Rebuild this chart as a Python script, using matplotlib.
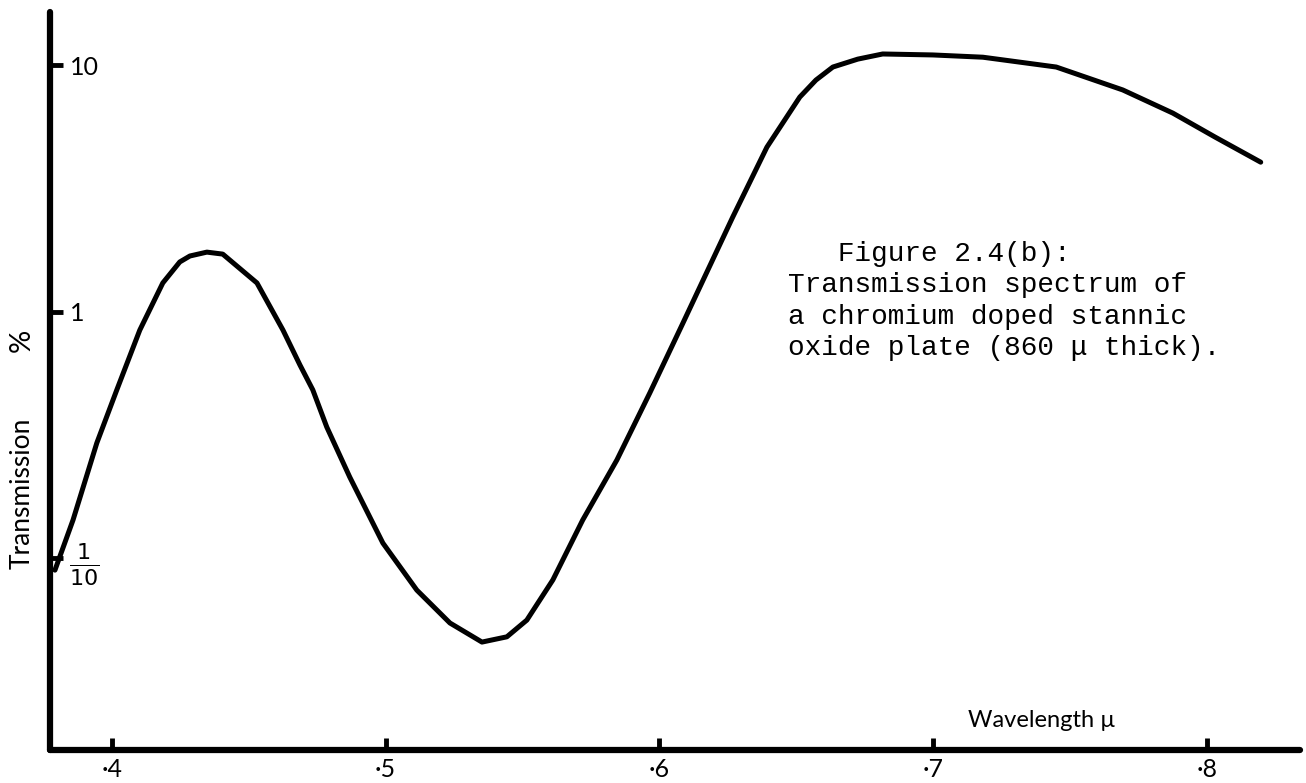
import matplotlib
matplotlib.use("Agg")
import matplotlib.pyplot as plt
from matplotlib.ticker import FixedLocator, NullLocator

# ---- data ----
wavelength = [0.3792, 0.3858, 0.3945, 0.4018, 0.4102, 0.4186, 0.4248, 0.4285, 0.4347,
              0.4405, 0.4530, 0.4625, 0.4687, 0.4734, 0.4785, 0.4869, 0.4990, 0.5114,
              0.5235, 0.5352, 0.5443, 0.5516, 0.5611, 0.5720, 0.5845, 0.5965, 0.6086,
              0.6268, 0.6393, 0.6513, 0.6572, 0.6634, 0.6725, 0.6816, 0.6999, 0.7182,
              0.7450, 0.7693, 0.7876, 0.8030, 0.8197]
transmission = [0.0893, 0.1426, 0.293, 0.481, 0.841, 1.306, 1.589, 1.68, 1.742,
                1.710, 1.306, 0.841, 0.607, 0.481, 0.340, 0.213, 0.115, 0.0741,
                0.0545, 0.0456, 0.0479, 0.0560, 0.0815, 0.1426, 0.250, 0.467, 0.897,
                2.415, 4.645, 7.413, 8.69, 9.817, 10.57, 11.09, 10.99, 10.76,
                9.817, 7.925, 6.383, 5.105, 4.036]
x_ticks = [0.4, 0.5, 0.6, 0.7, 0.8]
x_tick_labels = ["·4", "·5", "·6", "·7", "·8"]
y_ticks = [0.1, 1, 10]
y_tick_labels = [r"$\frac{1}{10}$", "1", "10"]
caption = ("   Figure 2.4(b):\n"
           "Transmission spectrum of\n"
           "a chromium doped stannic\n"
           "oxide plate (860 μ thick).")

sans = ["Lato", "DejaVu Sans"]

fig = plt.figure(figsize=(13.06, 7.83), dpi=100)
ax = fig.add_axes([0.0383, 0.0421, 0.957, 0.9425])

ax.plot(wavelength, transmission, color="black", lw=3.6, solid_capstyle="round",
        solid_joinstyle="round")
ax.set_yscale("log")
ax.set_xlim(0.3774, 0.834)
ax.set_ylim(10 ** -1.779, 10 ** 1.215)

for s in ["top", "right"]:
    ax.spines[s].set_visible(False)
for s in ["left", "bottom"]:
    ax.spines[s].set_linewidth(4.5)
    ax.spines[s].set_capstyle("round")

ax.set_xticks(x_ticks)
ax.set_xticklabels(x_tick_labels, fontfamily=sans, fontsize=18)
ax.xaxis.set_minor_locator(NullLocator())
ax.tick_params(axis="x", direction="in", length=9, width=3.5, pad=6)

ax.yaxis.set_major_locator(FixedLocator(y_ticks))
ax.yaxis.set_minor_locator(FixedLocator([10]))
ax.set_yticklabels(y_tick_labels, fontfamily=sans, fontsize=18)
ax.tick_params(axis="y", which="major", direction="in", length=9, width=3.5, pad=-14)
ax.tick_params(axis="y", which="minor", direction="out", length=9, width=5, labelleft=False)
for lab in ax.get_yticklabels():
    lab.set_horizontalalignment("left")
ax.get_yticklabels()[0].set_fontsize(23)

fig.text(22 / 1306, 1 - 340 / 783, "%", rotation=90, ha="center", va="center",
         fontsize=21, family=sans)
fig.text(22 / 1306, 1 - 493 / 783, "Transmission", rotation=90, ha="center", va="center",
         fontsize=19, family=sans)
fig.text(968 / 1306, 1 - 727 / 783, "Wavelength µ", ha="left", va="baseline",
         fontsize=17, family=sans)

fig.text(788 / 1306, 1 - 301 / 783, caption, ha="left", va="center",
         fontsize=20, family=["Liberation Mono", "DejaVu Sans Mono"], linespacing=1.27)

fig.savefig("out.png", dpi=100)
